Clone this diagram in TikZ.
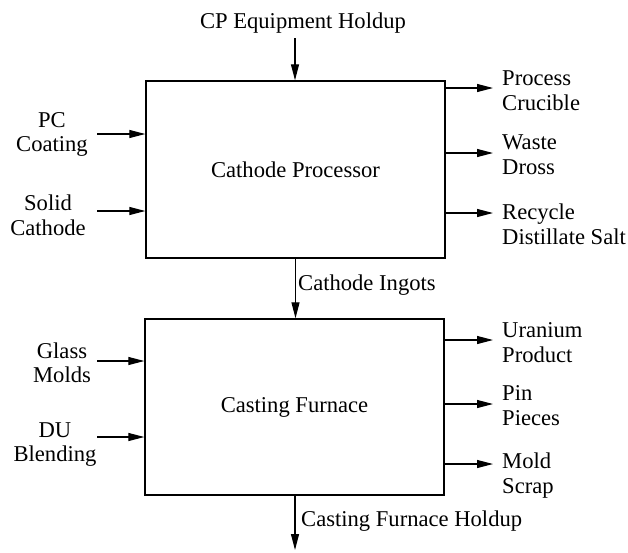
\documentclass[tikz,border=0pt]{standalone}
\usepackage{fontspec}
\setmainfont{Liberation Serif}
\usetikzlibrary{positioning,arrows.meta}
\tikzset{
    every node/.style={font=\fontsize{22.6}{24.5}\selectfont},
    procbox/.style={draw,line width=1.4pt,minimum width=299pt,minimum height=177pt,inner sep=0pt},
    inlabel/.style={align=center,inner sep=0pt},
    outlabel/.style={align=left,anchor=west,inner sep=0pt},
    flow/.style={draw,line width=1.1pt,-{Triangle[length=16pt,width=8pt]}}
}
\begin{document}
\begin{tikzpicture}[x=1pt,y=-1pt]
\useasboundingbox (0,0) rectangle (628,552);
% process blocks
\node[procbox] (cp) at (295.5,169.5) {Cathode Processor};
\node[procbox,minimum height=176pt] (cf) at (294.5,407) {Casting Furnace};
% holdup feed on top
\node (cphold) at (303,23) {CP Equipment Holdup};
\coordinate (cphold-in) at (295,38);
\draw[flow] (cphold-in) -- (cphold-in |- cp.north);
% feeds into the processor
\foreach \name/\y/\lx/\ly/\txt in {pc/134/52/134.5/{PC\\Coating},solid/211/48/215.5/{Solid\\Cathode}}{
    \node[inlabel] (\name) at (\lx,\ly) {\txt};
    \coordinate (\name-in) at (97,\y);
    \draw[flow] (\name-in) -- (\name-in -| cp.west);
}
% products of the processor
\foreach \name/\y/\ly/\txt in {crucible/88/90.5/{Process\\Crucible},dross/153/154.5/{Waste\\Dross},salt/213/224.5/{Recycle\\Distillate Salt}}{
    \coordinate (\name-out) at (493,\y);
    \draw[flow] (\name-out -| cp.east) -- (\name-out);
    \node[outlabel] (\name) at (502,\ly) {\txt};
}
% ingots to the furnace
\draw[flow] (cp.south) -- (cp.south |- cf.north);
\node[outlabel] (ingots) at (298,285) {Cathode Ingots};
% feeds into the furnace
\foreach \name/\y/\lx/\ly/\txt in {glass/361/62/363/{Glass\\Molds},du/437/55/444.5/{DU\\Blending}}{
    \node[inlabel] (\name) at (\lx,\ly) {\txt};
    \coordinate (\name-in) at (97,\y);
    \draw[flow] (\name-in) -- (\name-in -| cf.west);
}
% products of the furnace
\foreach \name/\y/\ly/\txt in {uranium/340/342.5/{Uranium\\Product},pin/404/405.5/{Pin\\Pieces},scrap/464/475.5/{Mold\\Scrap}}{
    \coordinate (\name-out) at (493,\y);
    \draw[flow] (\name-out -| cf.east) -- (\name-out);
    \node[outlabel] (\name) at (502,\ly) {\txt};
}
% holdup leaving below
\coordinate (cfhold-out) at (295,550);
\draw[flow] (cfhold-out |- cf.south) -- (cfhold-out);
\node[outlabel] (cfhold) at (301,521) {Casting Furnace Holdup};
\end{tikzpicture}
\end{document}
